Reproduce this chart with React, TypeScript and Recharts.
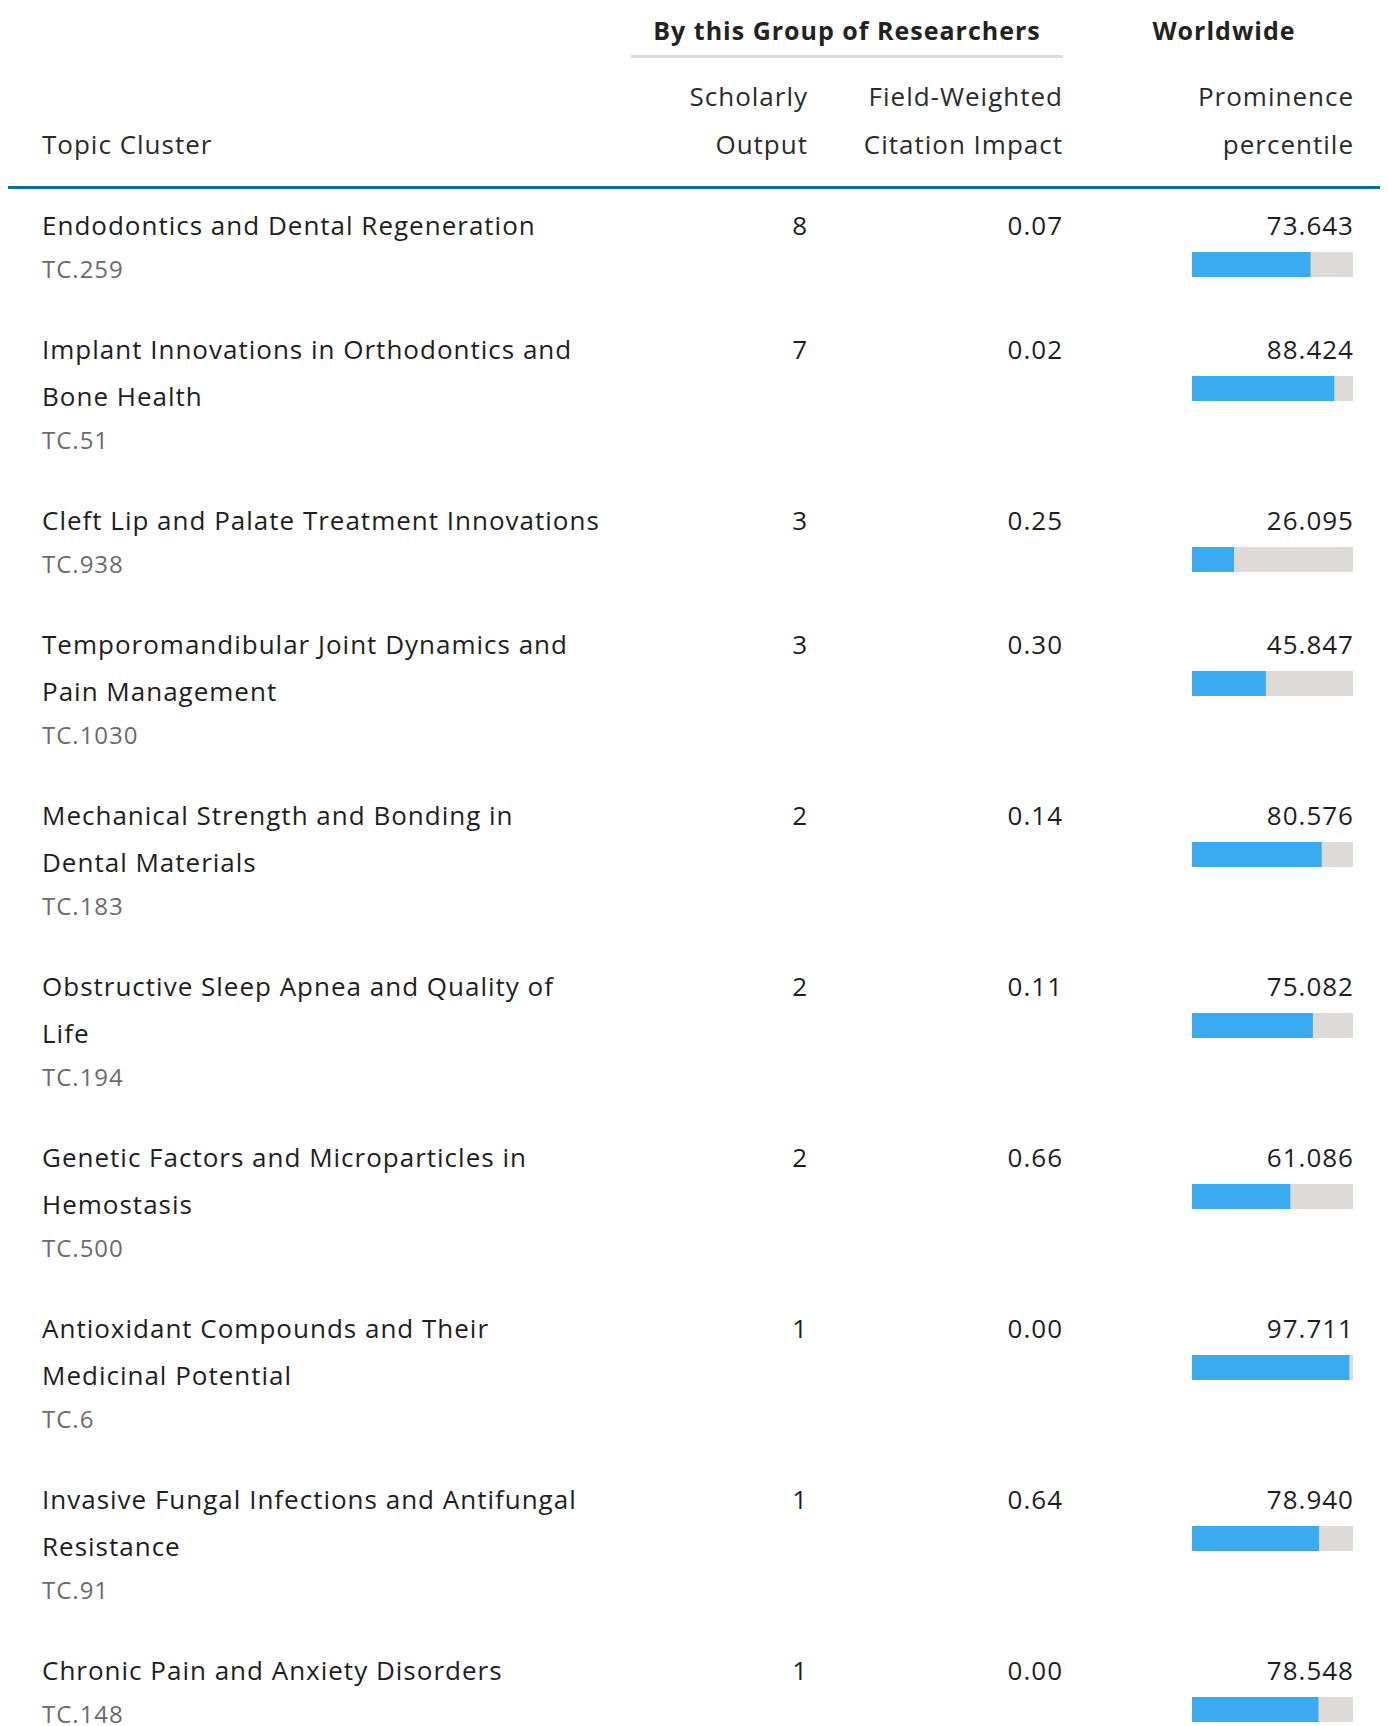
import React from "react";
import { BarChart, Bar, XAxis, YAxis } from "recharts";

const topicTitles = [
  "Endodontics and Dental Regeneration",
  "Implant Innovations in Orthodontics and\nBone Health",
  "Cleft Lip and Palate Treatment Innovations",
  "Temporomandibular Joint Dynamics and\nPain Management",
  "Mechanical Strength and Bonding in\nDental Materials",
  "Obstructive Sleep Apnea and Quality of\nLife",
  "Genetic Factors and Microparticles in\nHemostasis",
  "Antioxidant Compounds and Their\nMedicinal Potential",
  "Invasive Fungal Infections and Antifungal\nResistance",
  "Chronic Pain and Anxiety Disorders",
];
const topicCodes = ["TC.259", "TC.51", "TC.938", "TC.1030", "TC.183", "TC.194", "TC.500", "TC.6", "TC.91", "TC.148"];
const scholarlyOutput = [8, 7, 3, 3, 2, 2, 2, 1, 1, 1];
const fwci = ["0.07", "0.02", "0.25", "0.30", "0.14", "0.11", "0.66", "0.00", "0.64", "0.00"];
const prominence = [73.643, 88.424, 26.095, 45.847, 80.576, 75.082, 61.086, 97.711, 78.94, 78.548];

const FONT = "'Open Sans', Lato, sans-serif";
const BLUE = "#3AABF0";
const GRAY = "#DEDAD7";
const LS = 1;

function MiniBar({ value, name }: { value: number; name: string }) {
  const data = [{ name, value }];
  return (
    <BarChart
      width={161}
      height={25}
      data={data}
      layout="vertical"
      margin={{ top: 0, right: 0, bottom: 0, left: 0 }}
      barCategoryGap={0}
    >
      <XAxis type="number" domain={[0, 100]} hide />
      <YAxis type="category" dataKey="name" hide />
      <Bar
        dataKey="value"
        fill={BLUE}
        background={{ fill: GRAY }}
        isAnimationActive={false}
      />
    </BarChart>
  );
}

export default function App() {
  const textStyle: React.CSSProperties = { fontFamily: FONT, fontSize: 26, color: "#1e1e1e", letterSpacing: LS };
  return (
    <div style={{ position: "relative", width: 1377, fontFamily: FONT }}>
      <div style={{ position: "relative", height: 181 }}>
        <div
          style={{
            position: "absolute",
            left: 623,
            width: 432,
            top: 2,
            lineHeight: "40px",
            textAlign: "center",
            fontWeight: 700,
            fontSize: 25,
            letterSpacing: LS,
            color: "#222",
            whiteSpace: "nowrap",
          }}
        >
          By this Group of Researchers
        </div>
        <div style={{ position: "absolute", left: 623, width: 432, top: 47, height: 3, background: "#DCDCDC" }} />
        <div
          style={{
            position: "absolute",
            left: 1096,
            width: 240,
            top: 2,
            lineHeight: "40px",
            textAlign: "center",
            fontWeight: 700,
            fontSize: 25,
            letterSpacing: LS,
            color: "#222",
          }}
        >
          Worldwide
        </div>
        <div style={{ ...textStyle, position: "absolute", left: 34, top: 112, lineHeight: "48px", color: "#2b2b2b" }}>
          Topic Cluster
        </div>
        <div
          style={{ ...textStyle, position: "absolute", right: 1377 - 799 - LS, top: 64, lineHeight: "48px", textAlign: "right", color: "#2b2b2b" }}
        >
          Scholarly
          <br />
          Output
        </div>
        <div
          style={{ ...textStyle, position: "absolute", right: 1377 - 1054 - LS, top: 64, lineHeight: "48px", textAlign: "right", color: "#2b2b2b", whiteSpace: "nowrap" }}
        >
          Field-Weighted
          <br />
          Citation Impact
        </div>
        <div
          style={{ ...textStyle, position: "absolute", right: 1377 - 1345 - LS, top: 64, lineHeight: "48px", textAlign: "right", color: "#2b2b2b" }}
        >
          Prominence
          <br />
          percentile
        </div>
        <div style={{ position: "absolute", left: 0, width: 1377, top: 178, height: 3, background: "#00739A" }} />
      </div>
      {topicTitles.map((title, i) => (
        <div key={i} style={{ display: "flex", paddingTop: 13, paddingBottom: 24 }}>
          <div style={{ width: 600, paddingLeft: 34, boxSizing: "border-box" }}>
            <div style={{ ...textStyle, lineHeight: "47px", whiteSpace: "pre" }}>{title}</div>
            <div style={{ ...textStyle, lineHeight: "40px", fontSize: 24, color: "#6b6b6b" }}>{topicCodes[i]}</div>
          </div>
          <div style={{ ...textStyle, width: 199 + LS, textAlign: "right", lineHeight: "47px" }}>{scholarlyOutput[i]}</div>
          <div style={{ ...textStyle, width: 255, textAlign: "right", lineHeight: "47px" }}>{fwci[i]}</div>
          <div style={{ width: 291, display: "flex", flexDirection: "column", alignItems: "flex-end" }}>
            <div style={{ ...textStyle, lineHeight: "47px", textAlign: "right" }}>{prominence[i].toFixed(3)}</div>
            <div style={{ marginTop: 3, marginRight: LS, width: 161, height: 25 }}>
              <MiniBar value={prominence[i]} name={topicCodes[i]} />
            </div>
          </div>
        </div>
      ))}
    </div>
  );
}
